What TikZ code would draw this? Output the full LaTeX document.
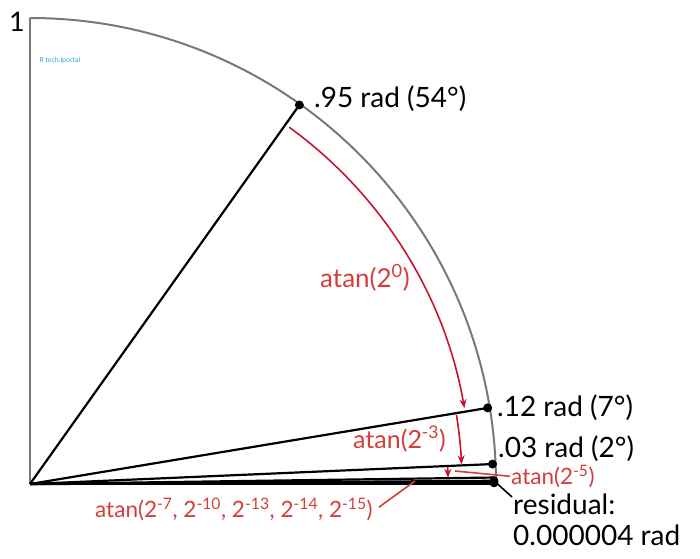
\documentclass[tikz,border=0pt]{standalone}
\usepackage{fontspec}
\setmainfont{Lato}
\usetikzlibrary{arrows.meta,calc}
\definecolor{redarc}{RGB}{200,20,45}
\definecolor{redtxt}{RGB}{212,62,58}
\definecolor{arcgray}{RGB}{120,120,120}
\definecolor{wm}{RGB}{60,160,220}
\tikzset{
  radius line/.style={line width=2.2pt, black},
  red arrow/.style={redarc, line width=1.6pt, -{Stealth[length=9pt,width=7pt]}},
  red lead/.style={redtxt, line width=1.6pt},
  dot/.style={circle, fill=black, inner sep=0pt, minimum size=9pt},
  blacklbl/.style={anchor=base west, inner sep=0pt, font=\fontsize{28}{31}\selectfont},
  redlbl/.style={redtxt, anchor=base west, inner sep=0pt, font=\fontsize{25}{28}\selectfont},
}
\begin{document}
\begin{tikzpicture}[x=1pt,y=1pt]
\useasboundingbox (0,0) rectangle (700,558);
\coordinate (O) at (30,74);
% gray frame
\draw[arcgray, line width=2pt] (O) -- ++(0,466) coordinate (T);
\draw[arcgray, line width=2pt] (T) arc[start angle=90, end angle=0, radius=466];
% points on the arc
\coordinate (P95) at ($(O)+(54.6:465)$);
\coordinate (P12) at ($(O)+(9.44:464)$);
\coordinate (P03) at ($(O)+(2.47:463)$);
\coordinate (Pr)  at ($(O)+(0.4:464)$);
\coordinate (Q1)  at ($(O)+(0.8:464)$);
\coordinate (Q2)  at ($(O)+(0.15:464)$);
\coordinate (Q3)  at ($(O)+(0:464)$);
% radius lines
\draw[radius line] (O) -- (P95);
\draw[radius line] (O) -- (P12);
\draw[radius line] (O) -- (P03);
\draw[radius line] (O) -- (Q1);
\draw[radius line] (O) -- (Pr);
\draw[radius line] (O) -- (Q2);
\draw[radius line] (O) -- (Q3);
% dots
\node[dot] (d95) at (P95) {};
\node[dot] (d12) at (P12) {};
\node[dot] (d03) at (P03) {};
\node[dot] (dr)  at (Pr) {};
\node[dot] (dq)  at (Q2) {};
% red arrows
\draw[red arrow] ($(O)+(54.0:441)$) arc[start angle=54.0, end angle=9.9, radius=441];
\draw[red arrow] ($(O)+(9.2:432)$) arc[start angle=9.2, end angle=2.6, radius=432];
\draw[red arrow] ($(O)+(2.3:418)$) arc[start angle=2.3, end angle=0.85, radius=418];
% labels
\node[blacklbl, anchor=base east, font=\fontsize{27}{30}\selectfont] (one) at (25,526) {1};
\node[blacklbl] (l95) at (314,450) {.95 rad (54°)};
\node[blacklbl] (l12) at (497,142) {.12 rad (7°)};
\node[blacklbl] (l03) at (498,101) {.03 rad (2°)};
\node[blacklbl] (lres) at (513,44) {residual:};
\node[blacklbl] (lres2) at (513,13) {0.000004 rad};
\node[redlbl, font=\fontsize{26}{29}\selectfont] (a0) at (320,271) {atan(2\textsuperscript{0})};
\node[redlbl] (a3) at (353,110) {atan(2\textsuperscript{-3})};
\node[redlbl, font=\fontsize{22.5}{26}\selectfont] (a5) at (511,74) {atan(2\textsuperscript{-5})};
\node[redlbl, font=\fontsize{22.5}{26}\selectfont] (a7) at (95,41) {atan(2\textsuperscript{-7}, 2\textsuperscript{-10}, 2\textsuperscript{-13}, 2\textsuperscript{-14}, 2\textsuperscript{-15})};
% leader lines
\coordinate (a5end) at (455,87);
\draw[red lead] ([xshift=-1pt]a5.west) -- (a5end);
\coordinate (a7end) at (415,77);
\draw[red lead] ([xshift=6pt,yshift=2pt]a7.east) -- (a7end);
\coordinate (resend) at (512,61);
\draw[black, line width=1.6pt] (dr) -- (resend);
% watermark
\node[wm, font=\fontsize{7}{8}\selectfont\rmfamily, anchor=west] (wmk) at (36,497) {\textit{R} tech.iportal};
\end{tikzpicture}
\end{document}
